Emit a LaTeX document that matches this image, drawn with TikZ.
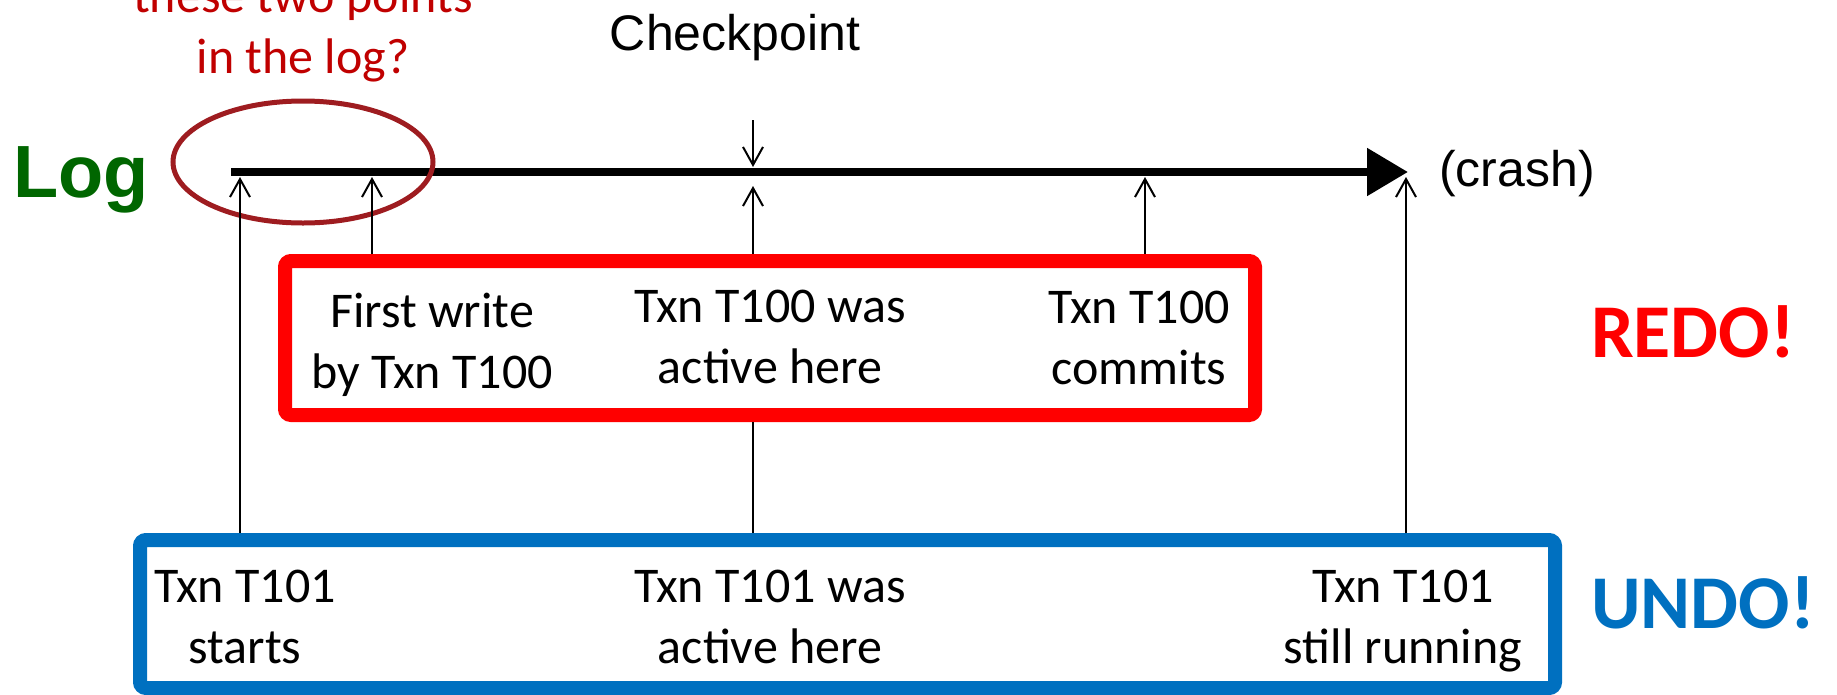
\documentclass[tikz,border=0pt]{standalone}
\usepackage{fontspec}
\setmainfont{Carlito}
\newfontfamily\arialfont{Liberation Sans}
\usetikzlibrary{arrows.meta,shapes.geometric}
\definecolor{redoRed}{RGB}{255,0,0}
\definecolor{undoBlue}{RGB}{0,112,192}
\definecolor{logGreen}{RGB}{0,102,0}
\definecolor{qRed}{RGB}{192,0,0}
\definecolor{ellRed}{RGB}{158,28,32}
\begin{document}
\begin{tikzpicture}[x=1pt,y=-1pt,
  body/.style={font=\fontsize{50}{61}\selectfont, align=center, inner sep=0pt, anchor=base},
  arialtext/.style={font=\arialfont\fontsize{50}{60}\selectfont, inner sep=0pt, anchor=base},
  bigword/.style={font=\bfseries\fontsize{76}{90}\selectfont, inner sep=0pt, anchor=base},
  framebox/.style={draw, line width=14pt, rounded corners=6pt, inner sep=0pt},
  pointer/.style={line width=2pt, -{Straight Barb[length=18pt,width=20pt]}},
  plainline/.style={line width=2pt}
]
\useasboundingbox (0,0) rectangle (1837,694);

% boxes
\node[framebox, draw=redoRed, minimum width=970pt, minimum height=154pt] (redo) at (770,338) {};
\node[framebox, draw=undoBlue, minimum width=1415pt, minimum height=148pt] (undo) at (847.5,614) {};

% log line
\coordinate (lstart) at (231,172);
\coordinate (ltip) at (1408,172);
\draw[line width=8.5pt, -{Triangle[length=41pt,width=46pt]}] (lstart) -- (ltip);

% points on the log
\coordinate (p1) at (240,177);
\coordinate (p2) at (372,177);
\coordinate (p3) at (753,186);
\coordinate (p4) at (1145,177);
\coordinate (p5) at (1406,177);
\coordinate (ckin) at (753,167);
\coordinate (cktop) at (753,120);

% labels
\node[font=\arialfont\bfseries\fontsize{74}{80}\selectfont, text=logGreen, inner sep=0pt, anchor=base] (log) at (81,197) {Log};
\node[arialtext] (ck) at (735,50) {Checkpoint};
\node[arialtext] (crash) at (1517,186) {(crash)};
\node[body, text=qRed] (q) at (303,73) {these two points\\in the log?};
\node[draw=ellRed, line width=5pt, ellipse, minimum width=260pt, minimum height=122pt, inner sep=0pt] (ell) at (303,162) {};

% texts in red box (base = last line)
\node[body] (r1) at (432,388) {First write\\by Txn T100};
\node[body] (r2) at (770,383) {Txn T100 was\\active here};
\node[body] (r3) at (1139,384) {Txn T100\\commits};

% texts in blue box
\node[body] (u1) at (245,663) {Txn T101\\starts};
\node[body] (u2) at (770,663) {Txn T101 was\\active here};
\node[body] (u3) at (1403,663) {Txn T101\\still running};

\node[bigword, text=redoRed] (redoword) at (1693,357) {REDO!};
\node[bigword, text=undoBlue] (undoword) at (1703,628) {UNDO!};

% connectors
\draw[pointer] (cktop) -- (ckin);
\draw[pointer] (p1 |- undo.north) -- (p1);
\draw[pointer] (p2 |- redo.north) -- (p2);
\draw[pointer] (p3 |- redo.north) -- (p3);
\draw[pointer] (p4 |- redo.north) -- (p4);
\draw[pointer] (p5 |- undo.north) -- (p5);
\draw[plainline] (p3 |- redo.south) -- (p3 |- undo.north);
\end{tikzpicture}
\end{document}
